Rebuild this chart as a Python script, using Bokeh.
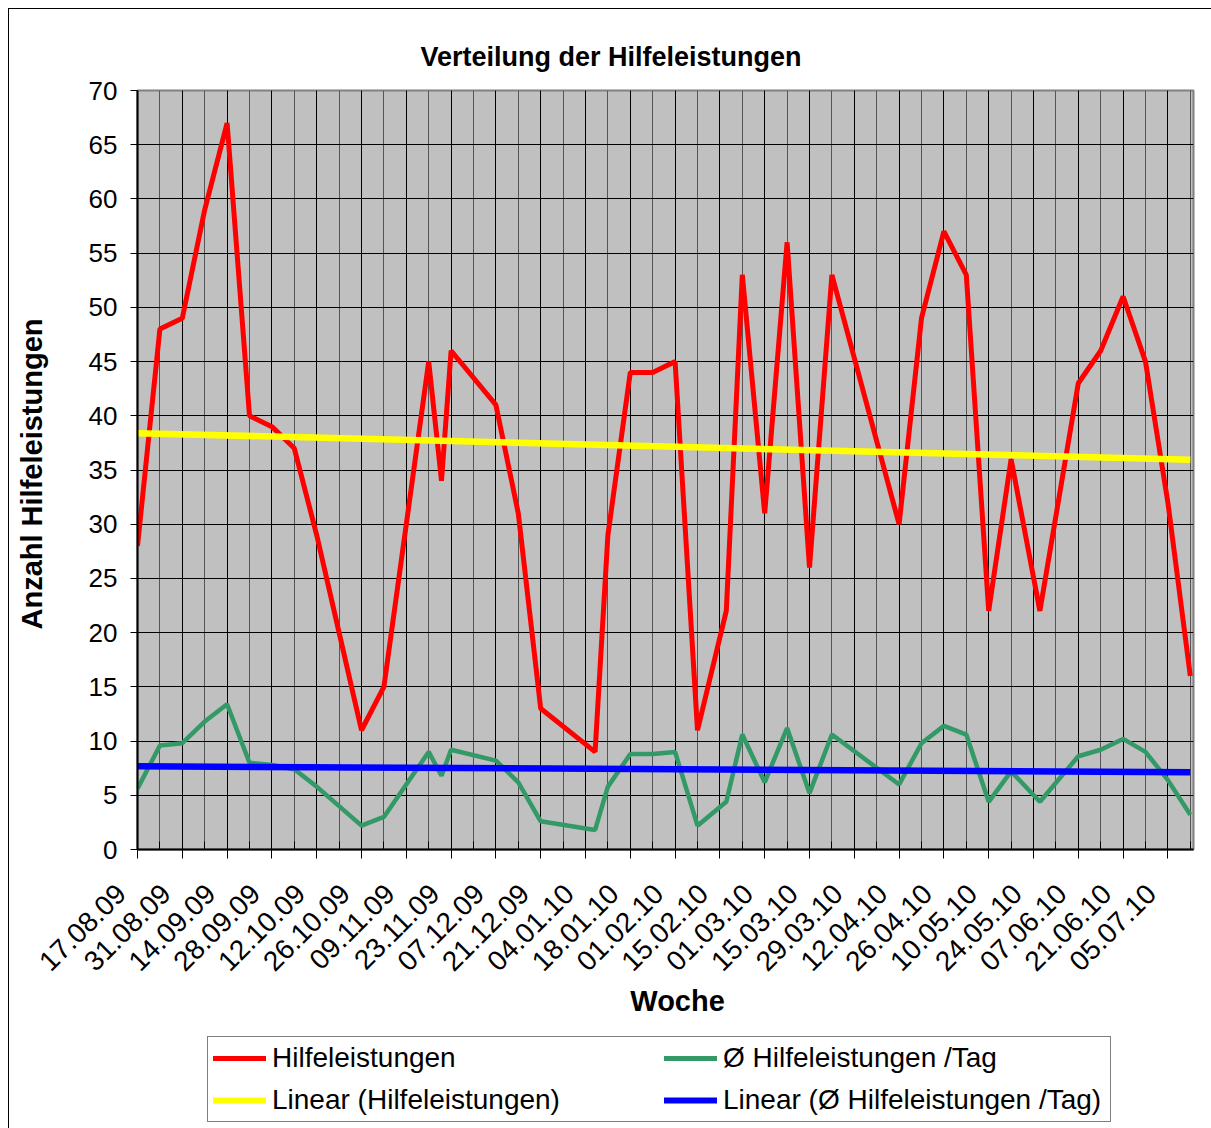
import numpy as np
import pandas as pd
from bokeh.plotting import figure
from bokeh.layouts import column
from bokeh.models import FixedTicker, Range1d, Legend, LegendItem, Title
from bokeh.embed import file_html
from bokeh.resources import INLINE

# ---- data ----
dates = ["17.08.09", "24.08.09", "31.08.09", "07.09.09", "14.09.09", "21.09.09",
         "28.09.09", "05.10.09", "12.10.09", "19.10.09", "26.10.09", "02.11.09",
         "16.11.09", "20.11.09", "23.11.09", "07.12.09", "14.12.09", "21.12.09",
         "07.01.10", "11.01.10", "18.01.10", "25.01.10", "01.02.10", "08.02.10",
         "17.02.10", "22.02.10", "01.03.10", "08.03.10", "15.03.10", "22.03.10",
         "12.04.10", "19.04.10", "26.04.10", "03.05.10", "10.05.10", "17.05.10",
         "26.05.10", "07.06.10", "14.06.10", "21.06.10", "28.06.10", "05.07.10",
         "12.07.10"]
hilfeleistungen = [28, 48, 49, 59, 67, 40, 39, 37, 29, 20, 11, 15,
                   45, 34, 46, 41, 31, 13, 9, 29, 44, 44, 45, 11,
                   22, 53, 31, 56, 26, 53, 30, 49, 57, 53, 22, 36,
                   22, 43, 46, 51, 45, 32, 16]
pro_tag = [5.6, 9.6, 9.8, 11.8, 13.4, 8.0, 7.8, 7.4, 5.8, 4.0, 2.2, 3.0,
           9.0, 6.8, 9.2, 8.2, 6.2, 2.6, 1.8, 5.8, 8.8, 8.8, 9.0, 2.2,
           4.4, 10.6, 6.2, 11.2, 5.2, 10.6, 6.0, 9.8, 11.4, 10.6, 4.4, 7.2,
           4.4, 8.6, 9.2, 10.2, 9.0, 6.4, 3.2]
# linear trend lines (value at first and last date)
trend_dates = ["17.08.09", "12.07.10"]
trend_hilfe = [38.4, 35.95]
trend_tag = [7.68, 7.13]
tick_labels = ["17.08.09", "31.08.09", "14.09.09", "28.09.09", "12.10.09", "26.10.09",
               "09.11.09", "23.11.09", "07.12.09", "21.12.09", "04.01.10", "18.01.10",
               "01.02.10", "15.02.10", "01.03.10", "15.03.10", "29.03.10", "12.04.10",
               "26.04.10", "10.05.10", "24.05.10", "07.06.10", "21.06.10", "05.07.10"]
y_ticks = [0, 5, 10, 15, 20, 25, 30, 35, 40, 45, 50, 55, 60, 65, 70]

FONT = "Liberation Sans"
RED, GREEN, YELLOW, BLUE = "#FF0000", "#339966", "#FFFF00", "#0000FF"
NB = "\u00a0"


def to_day(s):
    return (pd.to_datetime(s, format="%d.%m.%y") - pd.to_datetime(dates[0], format="%d.%m.%y")).days


days = [to_day(d) for d in dates]
tick_days = [to_day(d) for d in tick_labels]
trend_days = [to_day(d) for d in trend_dates]
week_days = list(range(0, days[-1] + 1, 7))

p = figure(width=1202, height=1019, output_backend="svg", toolbar_location=None,
           x_range=Range1d(0, 330), y_range=Range1d(0, 70),
           min_border_left=128, min_border_right=18, min_border_top=81,
           min_border_bottom=179)
p.background_fill_color = "#C0C0C0"
p.border_fill_color = "white"
p.outline_line_color = "#808080"
p.outline_line_width = 2

t = Title(text="Verteilung der Hilfeleistungen", align="left", offset=283,
          text_font=FONT, text_font_size="27px", text_font_style="bold",
          text_color="black", standoff=38)
p.add_layout(t, "above")

# grid
p.xgrid.ticker = FixedTicker(ticks=tick_days, minor_ticks=week_days)
p.xgrid.grid_line_color = "black"
p.xgrid.grid_line_width = 1
p.xgrid.minor_grid_line_color = "#555555"
p.xgrid.minor_grid_line_width = 1
p.ygrid.ticker = FixedTicker(ticks=y_ticks)
p.ygrid.grid_line_color = "black"
p.ygrid.grid_line_width = 1

xa = p.xaxis[0]
xa.ticker = FixedTicker(ticks=tick_days, minor_ticks=week_days)
# trailing no-break spaces move each rotated label slightly down-left of its tick
xa.major_label_overrides = {d: lab + NB * 3 for d, lab in zip(tick_days, tick_labels)}
xa.major_label_orientation = np.pi / 4
xa.major_label_standoff = 14
xa.major_label_text_font = FONT
xa.major_label_text_font_size = "28px"
xa.major_label_text_color = "black"
xa.major_tick_out = 9
xa.major_tick_in = 0
xa.minor_tick_in = 8
xa.minor_tick_out = 0
xa.axis_line_color = "black"
xa.axis_line_width = 2
xa.major_tick_line_color = "black"
xa.minor_tick_line_color = "black"
xa.axis_label = NB * 3 + "Woche"
xa.axis_label_text_font = FONT
xa.axis_label_text_font_size = "29px"
xa.axis_label_text_font_style = "bold"
xa.axis_label_text_color = "black"
xa.axis_label_standoff = -6

ya = p.yaxis[0]
ya.ticker = FixedTicker(ticks=y_ticks)
ya.major_tick_out = 7
ya.major_tick_in = 0
ya.minor_tick_out = 0
ya.axis_label = "Anzahl Hilfeleistungen" + NB
ya.axis_label_text_font = FONT
ya.axis_label_text_font_size = "29px"
ya.axis_label_text_font_style = "bold"
ya.axis_label_standoff = 38
ya.major_label_standoff = 13
ya.axis_line_color = "black"
ya.axis_line_width = 2
ya.major_tick_line_color = "black"
ya.major_label_text_font = FONT
ya.major_label_text_font_size = "26px"
ya.major_label_text_color = "black"
ya.axis_label_text_color = "black"

p.line(days, hilfeleistungen, line_color=RED, line_width=5)
p.line(days, pro_tag, line_color=GREEN, line_width=4.5)
p.line(trend_days, trend_hilfe, line_color=YELLOW, line_width=6.5)
p.line(trend_days, trend_tag, line_color=BLUE, line_width=6.5)

# ---- legend strip below the chart ----
q = figure(width=1202, height=100, output_backend="svg", toolbar_location=None,
           x_range=Range1d(0, 1), y_range=Range1d(0, 1),
           x_axis_location=None, y_axis_location=None,
           min_border_left=0, min_border_right=0, min_border_top=0, min_border_bottom=0)
q.outline_line_color = None
q.background_fill_color = "white"
q.border_fill_color = "white"
q.xgrid.visible = False
q.ygrid.visible = False
# legend-only renderers (no visible data)
g1 = q.line([np.nan], [np.nan], line_color=RED, line_width=5, line_cap="round")
g2 = q.line([np.nan], [np.nan], line_color=GREEN, line_width=5, line_cap="round")
g3 = q.line([np.nan], [np.nan], line_color=YELLOW, line_width=6, line_cap="round")
g4 = q.line([np.nan], [np.nan], line_color=BLUE, line_width=6, line_cap="round")

legend = Legend(items=[
    LegendItem(label="Hilfeleistungen", renderers=[g1]),
    LegendItem(label="Linear (Hilfeleistungen)", renderers=[g3]),
    LegendItem(label="Ø Hilfeleistungen /Tag", renderers=[g2]),
    LegendItem(label="Linear (Ø Hilfeleistungen /Tag)", renderers=[g4]),
], ncols=2, location=(70, 6), orientation="vertical")
legend.label_text_font = FONT
legend.label_text_font_size = "28px"
legend.label_text_color = "black"
legend.glyph_width = 53
legend.glyph_height = 32
legend.label_height = 32
legend.label_width = 382
legend.label_standoff = 6
legend.spacing = 10
legend.padding = 5
legend.margin = 0
legend.border_line_color = "black"
legend.border_line_width = 1
legend.background_fill_color = "white"
legend.background_fill_alpha = 1
q.add_layout(legend, "center")

layout = column(p, q, spacing=0)
layout.styles = {"margin-left": "8px", "margin-top": "8px",
                 "border-left": "1px solid black", "border-top": "1px solid black"}

open("out.html", "w").write(file_html(layout, INLINE))
